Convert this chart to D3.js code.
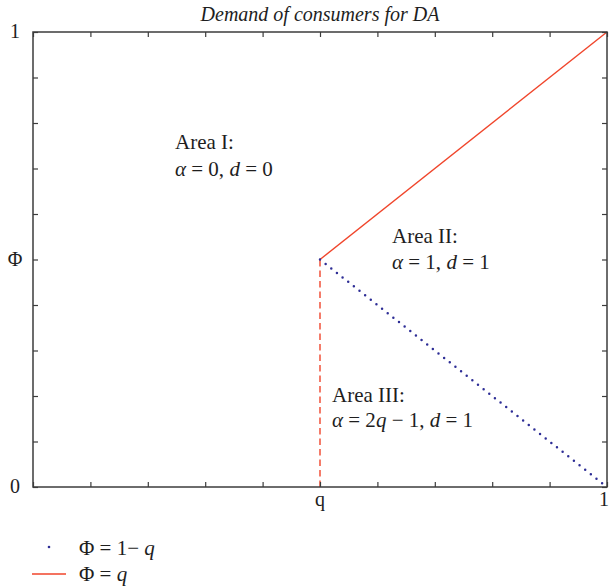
<!DOCTYPE html>
<html><head><meta charset="utf-8">
<script src="https://cdn.jsdelivr.net/npm/d3@7"></script>
<style>
body{margin:0;background:#fff;}
text{font-family:"Liberation Serif","Times New Roman",serif;fill:#1e1e1e;}
</style></head>
<body><svg id="c" width="610" height="588"></svg>
<script>
const title = "Demand of consumers for DA";
const tickValues = [0,0.1,0.2,0.3,0.4,0.5,0.6,0.7,0.8,0.9,1];
const xTickLabels = [[0.5,"q"],[1,"1"]];
const yTickLabels = [[1,"1"],[0.5,"Φ"],[0,"0"]];
const lineQ = [[0.5,0.5],[1,1]];          // Φ = q
const dashedQ = [[0.5,0],[0.5,0.5]];      // vertical boundary at q
const lineOneMinusQ = [[0.5,0.5],[1,0]];  // Φ = 1 − q

const svg = d3.select("#c");
const L=33, R=607, T=32, B=487;
const x = d3.scaleLinear().domain([0,1]).range([L,R]);
const y = d3.scaleLinear().domain([0,1]).range([B,T]);
const red="#f0452b", blue="#2e2e96", axisCol="#3c3c3c";

// lines
const line = d3.line().x(d=>x(d[0])).y(d=>y(d[1]));
svg.append("path").attr("d",line(dashedQ)).attr("fill","none").attr("stroke",red).attr("stroke-width",1.4).attr("stroke-dasharray","6.5,4");
svg.append("path").attr("d",line(lineQ)).attr("fill","none").attr("stroke",red).attr("stroke-width",1.4);
svg.append("path").attr("d",line(lineOneMinusQ)).attr("fill","none").attr("stroke",blue).attr("stroke-width",2.5).attr("stroke-linecap","round").attr("stroke-dasharray","0,7.2");

// axes box with inward ticks
function styleAxis(g){g.select(".domain").remove();g.selectAll("line").attr("stroke",axisCol).attr("stroke-width",1.2);g.selectAll("text").remove();}
svg.append("g").attr("transform",`translate(0,${B})`).call(d3.axisBottom(x).tickValues(tickValues).tickSize(-5)).call(styleAxis);
svg.append("g").attr("transform",`translate(0,${T})`).call(d3.axisTop(x).tickValues(tickValues).tickSize(-5)).call(styleAxis);
svg.append("g").attr("transform",`translate(${L},0)`).call(d3.axisLeft(y).tickValues(tickValues).tickSize(-5)).call(styleAxis);
svg.append("g").attr("transform",`translate(${R},0)`).call(d3.axisRight(y).tickValues(tickValues).tickSize(-5)).call(styleAxis);
svg.append("rect").attr("x",L).attr("y",T).attr("width",R-L).attr("height",B-T).attr("fill","none").attr("stroke",axisCol).attr("stroke-width",1.5);

// tick labels
svg.selectAll(".xl").data(xTickLabels).join("text").attr("x",d=>Math.min(x(d[0]),R-3)).attr("y",B+19).attr("text-anchor","middle").attr("font-size",20).text(d=>d[1]);
svg.selectAll(".yl").data(yTickLabels).join("text").attr("x",L-18).attr("y",d=>y(d[0])+6).attr("text-anchor","middle").attr("font-size",20).text(d=>d[1]);

// title
svg.append("text").attr("x",(L+R)/2).attr("y",21).attr("text-anchor","middle").attr("font-size",20).attr("font-style","italic").text(title);

// annotations
function rich(xp,yp,parts){
  const t=svg.append("text").attr("x",xp).attr("y",yp).attr("font-size",21);
  parts.forEach(p=>{t.append("tspan").attr("font-style",p[1]?"italic":null).text(p[0]);});
}
rich(175,149,[["Area I:",0]]);
rich(175,176,[["α",1],[" = 0, ",0],["d",1],[" = 0",0]]);
rich(392,243,[["Area II:",0]]);
rich(392,269,[["α",1],[" = 1, ",0],["d",1],[" = 1",0]]);
rich(332,402,[["Area III:",0]]);
rich(332,427,[["α",1],[" = 2",0],["q",1],[" − 1, ",0],["d",1],[" = 1",0]]);

// legend
svg.append("circle").attr("cx",49).attr("cy",547).attr("r",1.3).attr("fill",blue);
rich(79,555,[["Φ = 1− ",0],["q",1]]);
svg.append("line").attr("x1",32).attr("x2",66).attr("y1",574).attr("y2",574).attr("stroke",red).attr("stroke-width",1.4);
rich(79,581,[["Φ = ",0],["q",1]]);
</script></body></html>
